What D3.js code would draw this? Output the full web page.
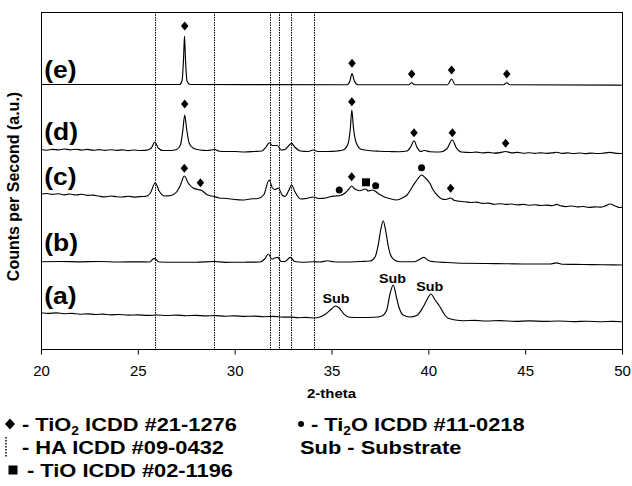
<!DOCTYPE html>
<html>
<head>
<meta charset="utf-8">
<script src="https://cdn.jsdelivr.net/npm/d3@7"></script>
<style>
body { margin: 0; background: #fff; }
svg { display: block; font-family: "Liberation Sans", Arial, sans-serif; }
.trace { fill: none; stroke: #000; stroke-width: 1.15; stroke-linejoin: round; }
.ha { stroke: #000; stroke-width: 1; stroke-dasharray: 1.5,1; }
.axis path, .axis line { stroke: #000; }
</style>
</head>
<body>
<script>
// patterns, [2-theta, counts a.u.] with the stacking offset included
var patternA = [[20,36.3],[20.4,35.7],[20.8,36.1],[21.2,35.3],[21.6,35.6],[22,34.8],[22.4,35.2],[22.8,34.5],
    [23.2,34.9],[23.6,34.2],[24,34.5],[24.5,33.9],[25,34.2],[25.5,33.6],[26,34],[26.5,33.5],[27,33.9],
    [27.5,33.3],[28,33.6],[28.5,33.1],[29,33.4],[29.5,32.8],[30,33.1],[30.5,32.6],[31,32.9],[31.5,32.3],
    [32,32.6],[32.5,31.9],[32.9,31.9],[33.3,31.3],[33.7,31.6],[34.08,31],
    [34.4,32],[34.7,35],[35,40],[35.2,43],[35.4,41],[35.61,35.7],[35.95,31.7],[36.5,31.5],[37.2,31.7],
    [37.6,33],[37.85,39],[38.02,55],[38.19,64],[38.35,52],[38.48,42],[38.7,34],[39.05,32],[39.4,33.5],
    [39.74,42.3],[39.95,50],[40.13,55],[40.35,49],[40.6,42.3],[40.85,34],[41.03,30.7],[41.4,29],
    [41.8,28.3],[42.4,28.6],[43,28],[43.7,28.4],[44.5,27.7],[45.2,28.1],[46,27.6],[46.7,28],[47.5,27.4],
    [48.2,27.8],[49,27.3],[49.5,27.6],[50,27.2]];

var patternB = [[20,87.3],[21,87.5],[22,87.2],[23,87.5],[24,87],[25,87.2],[25.6,87],[25.85,90.7],[26.1,87],
    [27,86.8],[28,86.8],[28.95,87.5],[29.5,86.7],[30.5,86.8],[31.3,87],[31.55,90],[31.74,95],[31.92,90],
    [32.08,91],[32.22,91.7],[32.4,87.5],[32.6,87.5],[32.87,91.7],[33.1,87.5],[33.5,86.8],[34.08,87.3],
    [34.4,87],[34.8,88.3],[35.1,87.2],[35.5,87],[36.5,87.5],[37,88],[37.25,92],[37.42,105],[37.55,120],
    [37.67,128.3],[37.8,118],[37.92,104],[38.05,94],[38.25,89],[38.5,87.3],[39.3,87.3],[39.55,89.5],
    [39.77,91.7],[40,88.5],[40.3,87.3],[41,86.5],[41.8,85.7],[43,85.5],[44,85.3],[45.2,85],[46.3,85],
    [46.62,86.2],[46.9,84.8],[48,84.5],[49,84.2],[50,84]];

var patternC = [[20,154.7],[20.3,155.5],[20.6,154.6],[20.9,155.3],[21.2,154.2],[21.5,155],[21.8,154],
    [22.1,154.8],[22.4,153.6],[22.7,153.9],[23,152.8],[23.3,152.1],[23.6,153],[23.9,152.3],[24.2,152],
    [24.5,152.8],[24.8,151.9],[25.1,152.4],[25.4,152.6],[25.65,156],
    [25.9,166.3],[26.1,158],[26.4,153],[26.7,153.5],[27,157],[27.2,164],[27.4,173],[27.6,166],[27.85,161],
    [28.1,159.5],[28.3,158.5],[28.6,154],[28.95,152.5],[29.2,151],[29.6,150.5],[30,149.5],[30.4,149],
    [30.8,150],[31.2,150.5],[31.5,154],[31.78,169],[31.95,161],[32.08,159.5],[32.25,161],[32.45,154],
    [32.6,152.5],[32.78,158],[32.94,164],[33.12,157],[33.4,150],[33.7,150.5],[34.05,152],[34.35,150.5],
    [34.7,151],[34.97,152.5],[35.2,153],[35.45,153.5],[35.7,156],[35.9,160],[36.04,163],[36.2,160],
    [36.47,158.3],[36.65,159.5],[36.75,160],[36.9,158],[37.1,159],[37.2,158.5],[37.45,155],[37.7,152.3],
    [38,150.5],[38.36,149],[38.7,151.5],[38.9,154],[39.2,163],[39.45,170],[39.65,174],[39.85,171],
    [40.08,165.7],[40.25,159],[40.45,154],[40.7,150],[40.9,149.5],[41.15,151],[41.35,148.5],[41.6,147.8],
    [41.9,147.3],[42.2,146.5],[42.5,146.9],[42.8,145.6],[43.1,145.9],[43.4,144.8],[43.7,145.3],[44,144.6],
    [44.3,145],[44.6,144.1],[44.9,144.6],[45.2,143.8],[45.5,144.3],[45.8,143.5],[46.1,143.9],[46.4,143.3],
    [46.62,144.6],[46.85,143.2],[47.1,142.4],[47.4,143],[47.7,142.1],[48,142.5],[48.3,141.6],[48.6,142.1],
    [48.9,141.9],[49.1,142.8],[49.38,145],[49.65,143],[49.85,141.5],[50,141.8]];

var patternD = [[20,199.5],[20.3,198.8],[20.6,199.7],[20.9,199.1],[21.2,200],[21.5,199.2],[21.8,199.8],
    [22.1,198.9],[22.4,199.6],[22.7,198.7],[23,199.4],[23.3,198.6],[23.6,199.3],[23.9,198.6],[24.2,199.1],
    [24.5,198.4],[24.8,199],[25.1,198.5],[25.4,198.6],[25.7,201],[25.88,207],[26.05,201],[26.3,198.5],
    [26.7,198.5],[27,199.5],[27.2,204],[27.32,218],[27.42,234],[27.52,220],[27.65,206],[27.85,201],
    [28.2,199],[28.6,198.5],[28.95,199.5],[29.2,197.8],[29.6,197.5],[30,197.5],[30.5,197],[31,197.5],
    [31.4,198],[31.62,202],[31.78,206.3],[31.95,203.5],[32.2,203.5],[32.4,199],[32.6,199.5],[32.8,203.5],
    [32.94,205.7],[33.1,202],[33.4,198],[33.8,197.5],[34.05,199],[34.3,197.5],[34.8,197.5],[35.3,198],
    [35.6,199],[35.85,205],[35.97,220],[36.05,239],[36.13,222],[36.28,206],[36.55,199.5],[37,198.3],
    [37.5,197.8],[38,197.5],[38.5,197.3],[38.9,198],[39.1,202.5],[39.26,208.3],[39.42,201.5],[39.6,197.5],
    [39.8,198.5],[40.1,197.2],[40.6,197],[40.95,200],[41.24,209],[41.45,201],[41.7,197],[42.2,196.5],
    [42.5,196.9],[42.8,196.1],[43.1,196.6],[43.4,195.9],[43.7,196.4],[43.99,197.5],[44.3,196.2],
    [44.6,196.6],[44.9,195.8],[45.2,196.3],[45.5,195.7],[45.8,196.2],[46.1,195.7],[46.4,196.1],
    [46.62,196.8],[46.9,195.7],[47.2,196.1],[47.5,195.5],[47.8,196],[48.1,195.4],[48.4,195.9],
    [48.7,195.5],[49,195.8],[49.38,196.6],[49.7,195.6],[50,195.5]];

var patternE = [[20,264.5],[25,264.5],[27.15,264.5],[27.28,268],[27.36,290],[27.41,313],[27.46,290],
    [27.54,268],[27.7,264.5],[35.8,264.3],[35.95,268],[36.06,275.5],[36.18,268],[36.35,264.3],[39,264.3],
    [39.14,266.3],[39.28,264.3],[41,264.3],[41.2,270],[41.38,264.3],[43.9,264.3],[44.05,266.3],
    [44.2,264.3],[50,263.8]];

var patterns = [patternA, patternB, patternC, patternD, patternE];
var panelNames = ["(a)", "(b)", "(c)", "(d)", "(e)"];
var panelLabelY = [53, 106, 172, 217, 279];

// HA ICDD #09-0432 reference lines
var haLines = [25.9, 28.95, 31.8, 32.3, 32.92, 34.1];

// phase markers [2-theta, a.u.]
var tio2Marks = [[27.42,323],[36.06,285.7],[39.14,275],[41.2,279],[44.05,275],
    [27.42,245],[36.05,247.3],[39.26,216.3],[41.24,216.3],[43.99,205.7],
    [27.4,180.7],[28.23,166.3],[36.04,172.3],[41.15,160.7]];
var ti2oMarks = [[35.4,159],[37.28,163.3],[39.65,181.3]];
var tioMarks = [[36.78,166.7]];
var subMarks = [[35.23,46],[38.15,66],[40.07,58.3]];

var xTicks = [20, 25, 30, 35, 40, 45, 50];

var width = 632, height = 486,
    margin = {top: 12, right: 10, bottom: 137, left: 41},
    innerW = width - margin.left - margin.right,
    innerH = height - margin.top - margin.bottom;

var svg = d3.select("body").append("svg")
    .attr("width", width)
    .attr("height", height);

var x = d3.scaleLinear().domain([20, 50]).range([margin.left, margin.left + innerW]);
var y = d3.scaleLinear().domain([0, innerH]).range([margin.top + innerH, margin.top]);

// dotted HA lines
svg.selectAll(".ha")
    .data(haLines)
  .enter().append("line")
    .attr("class", "ha")
    .attr("x1", function(d) { return Math.round(x(d)) + 0.5; })
    .attr("x2", function(d) { return Math.round(x(d)) + 0.5; })
    .attr("y1", margin.top)
    .attr("y2", margin.top + innerH);

var line = d3.line()
    .x(function(d) { return x(d[0]); })
    .y(function(d) { return y(d[1]); })
    .curve(d3.curveMonotoneX);

svg.selectAll(".trace")
    .data(patterns)
  .enter().append("path")
    .attr("class", "trace")
    .attr("d", line);

// frame
svg.append("rect")
    .attr("x", margin.left + 0.5)
    .attr("y", margin.top + 0.5)
    .attr("width", innerW)
    .attr("height", innerH)
    .attr("fill", "none")
    .attr("stroke", "#000");

svg.append("g")
    .attr("class", "axis")
    .attr("transform", "translate(0," + (margin.top + innerH + 0.5) + ")")
    .call(d3.axisBottom(x).tickValues(xTicks).tickSize(5).tickSizeOuter(0).tickPadding(11))
    .call(function(g) {
        g.select(".domain").remove();
        g.selectAll("text").attr("font-size", 15).attr("font-family", "Liberation Sans, Arial, sans-serif").attr("fill", "#000");
    });

function diamond(w, h) {
    return "M0," + (-h / 2) + "L" + (w / 2) + ",0L0," + (h / 2) + "L" + (-w / 2) + ",0Z";
}

svg.selectAll(".tio2")
    .data(tio2Marks)
  .enter().append("path")
    .attr("d", diamond(7.5, 9))
    .attr("transform", function(d) { return "translate(" + x(d[0]) + "," + y(d[1]) + ")"; });

svg.selectAll(".ti2o")
    .data(ti2oMarks)
  .enter().append("circle")
    .attr("cx", function(d) { return x(d[0]); })
    .attr("cy", function(d) { return y(d[1]); })
    .attr("r", 3.5);

svg.selectAll(".tio")
    .data(tioMarks)
  .enter().append("rect")
    .attr("x", function(d) { return x(d[0]) - 4; })
    .attr("y", function(d) { return y(d[1]) - 4; })
    .attr("width", 8)
    .attr("height", 8);

svg.selectAll(".sub")
    .data(subMarks)
  .enter().append("text")
    .attr("transform", function(d) { return "translate(" + x(d[0]) + "," + y(d[1]) + ")scale(1.1,1)"; })
    .attr("text-anchor", "middle")
    .attr("font-weight", "bold")
    .attr("font-size", 13)
    .text("Sub");

svg.selectAll(".panel")
    .data(panelNames)
  .enter().append("text")
    .attr("transform", function(d, i) { return "translate(" + x(20.17) + "," + y(panelLabelY[i]) + ")scale(1.15,1)"; })
    .attr("dy", "0.36em")
    .attr("font-weight", "bold")
    .attr("font-size", 23)
    .text(function(d) { return d; });

svg.append("text")
    .attr("transform", "translate(" + (margin.left + innerW / 2) + ",398)scale(1.15,1)")
    .attr("text-anchor", "middle")
    .attr("font-weight", "bold")
    .attr("font-size", 13)
    .text("2-theta");

svg.append("text")
    .attr("transform", "translate(19," + (margin.top + innerH / 2 + 6) + ")rotate(-90)")
    .attr("text-anchor", "middle")
    .attr("font-weight", "bold")
    .attr("font-size", 16)
    .text("Counts per Second (a.u.)");

// legend
var legend = [
    {sym: "diamond", sx: 10, tx: 22, ty: 424, parts: [["- TiO", 0], ["2", 1], [" ICDD #21-1276", 0]]},
    {sym: "dots", sx: 6, tx: 22, ty: 447, parts: [["-  HA ICDD #09-0432", 0]]},
    {sym: "square", sx: 13, tx: 27, ty: 470, parts: [["- TiO ICDD #02-1196", 0]]},
    {sym: "circle", sx: 301, tx: 311, ty: 424, parts: [["- Ti", 0], ["2", 1], ["O ICDD #11-0218", 0]]},
    {sym: "none", sx: 0, tx: 300, ty: 447, parts: [["Sub - Substrate", 0]]}
];

var lg = svg.append("g");
legend.forEach(function(d) {
    if (d.sym === "diamond") lg.append("path").attr("d", diamond(10, 11)).attr("transform", "translate(" + d.sx + "," + d.ty + ")");
    if (d.sym === "square") lg.append("rect").attr("x", d.sx - 4.5).attr("y", d.ty - 4.5).attr("width", 9).attr("height", 9);
    if (d.sym === "circle") lg.append("circle").attr("cx", d.sx).attr("cy", d.ty).attr("r", 3);
    if (d.sym === "dots") lg.append("line").attr("class", "ha").style("stroke-width", 1.5).style("stroke-dasharray", "1.5,1.5")
        .attr("x1", d.sx).attr("x2", d.sx).attr("y1", d.ty - 10).attr("y2", d.ty + 10);
    var t = lg.append("text")
        .attr("transform", "translate(" + d.tx + "," + (d.ty + 7) + ")scale(1.15,1)")
        .attr("font-weight", "bold")
        .attr("font-size", 19);
    d.parts.forEach(function(p) {
        var s = t.append("tspan").text(p[0]);
        if (p[1]) s.attr("font-size", 12).attr("dy", 4);
        else if (t.selectAll("tspan").size() > 1) s.attr("dy", -4);
    });
});
</script>
</body>
</html>
